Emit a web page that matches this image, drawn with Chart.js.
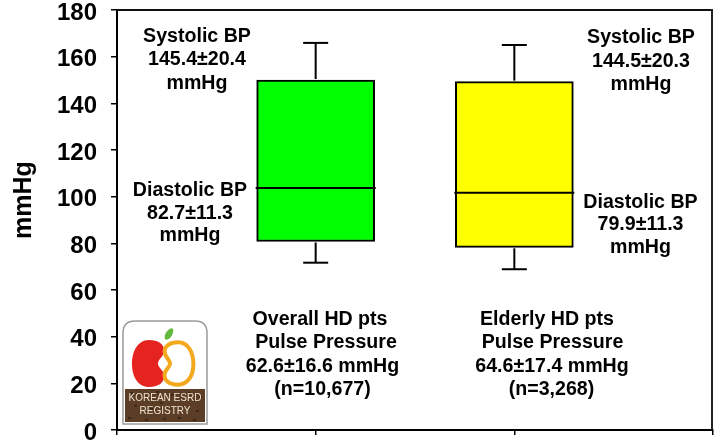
<!DOCTYPE html>
<html>
<head>
<meta charset="utf-8">
<script src="https://cdn.jsdelivr.net/npm/chart.js@4/dist/chart.umd.min.js"></script>
<style>
  html, body { margin: 0; padding: 0; background: #fff; }
  canvas { display: block; }
</style>
</head>
<body>
<canvas id="chart" width="714" height="445"></canvas>
<script>
// Box-plot summary of blood pressure in haemodialysis patients
const groups = ['', 'Overall HD pts', 'Elderly HD pts', ''];
const whiskerLow  = [null, 71.7, 68.9, null];
const boxLow      = [null, 80.8, 78.3, null];
const medians     = [null, 103.7, 101.7, null];
const boxHigh     = [null, 150.0, 149.3, null];
const whiskerHigh = [null, 165.9, 165.0, null];
const boxColors   = [null, '#00ff00', '#ffff00', null];

const yMin = 0, yMax = 180, yStep = 20;
const yTitle = 'mmHg';

// Text blocks printed inside the plot
const overallSystolic  = ['Systolic BP', '145.4\u00b120.4', 'mmHg'];
const overallDiastolic = ['Diastolic BP', '82.7\u00b111.3', 'mmHg'];
const elderlySystolic  = ['Systolic BP', '144.5\u00b120.3', 'mmHg'];
const elderlyDiastolic = ['Diastolic BP', '79.9\u00b111.3', 'mmHg'];
const overallPulse = ['Overall HD pts', 'Pulse Pressure', '62.6\u00b116.6 mmHg', '(n=10,677)'];
const elderlyPulse = ['Elderly HD pts', 'Pulse Pressure', '64.6\u00b117.4 mmHg', '(n=3,268)'];
const logoLines = ['KOREAN ESRD', 'REGISTRY'];

const FONT = "'Liberation Sans', Arial, Helvetica, sans-serif";

function strokeLine(ctx, x1, y1, x2, y2) {
  ctx.beginPath();
  ctx.moveTo(x1, y1);
  ctx.lineTo(x2, y2);
  ctx.stroke();
}

// Medians and whiskers on top of the floating bars
const boxPlot = {
  id: 'boxPlot',
  afterDatasetsDraw(chart) {
    const { ctx, scales: { y } } = chart;
    const meta = chart.getDatasetMeta(0);
    ctx.save();
    ctx.strokeStyle = '#000';
    ctx.lineWidth = 2;
    ctx.lineCap = 'butt';
    meta.data.forEach((bar, i) => {
      if (medians[i] == null) return;
      const x = bar.x, half = bar.width / 2, cap = 12.5;
      const yMed = y.getPixelForValue(medians[i]);
      strokeLine(ctx, x - half - 1, yMed, x + half + 1, yMed);
      const yQ3 = y.getPixelForValue(boxHigh[i]);
      const yHi = y.getPixelForValue(whiskerHigh[i]);
      strokeLine(ctx, x, yQ3 - 1, x, yHi);
      strokeLine(ctx, x - cap, yHi, x + cap, yHi);
      const yQ1 = y.getPixelForValue(boxLow[i]);
      const yLo = y.getPixelForValue(whiskerLow[i]);
      strokeLine(ctx, x, yQ1 + 1, x, yLo);
      strokeLine(ctx, x - cap, yLo, x + cap, yLo);
    });
    ctx.restore();
  }
};

// Top and right edges of the plot frame
const frame = {
  id: 'frame',
  afterDraw(chart) {
    const { ctx, chartArea: a } = chart;
    ctx.save();
    ctx.strokeStyle = '#111';
    ctx.lineWidth = 2;
    strokeLine(ctx, a.left, a.top, a.right, a.top);
    ctx.strokeStyle = '#222';
    strokeLine(ctx, a.right - 1, a.top - 1, a.right - 1, a.bottom);
    ctx.restore();
  }
};

function drawBlock(ctx, lines, cx, baselines) {
  lines.forEach((t, k) => {
    const x = Array.isArray(cx) ? cx[k] : cx;
    ctx.fillText(t, x, baselines[k]);
  });
}

// Annotations and the vertical axis title
const annotations = {
  id: 'annotations',
  afterDraw(chart) {
    const { ctx } = chart;
    ctx.save();
    ctx.fillStyle = '#000';
    ctx.textAlign = 'center';
    ctx.textBaseline = 'alphabetic';
    ctx.font = `bold 19.6px ${FONT}`;
    drawBlock(ctx, overallSystolic, 197, [41.7, 65, 88.5]);
    drawBlock(ctx, overallDiastolic, 190, [196, 218.5, 241]);
    drawBlock(ctx, elderlySystolic, 641, [43.3, 66.7, 90]);
    drawBlock(ctx, elderlyDiastolic, 640.5, [207.5, 230, 252.5]);
    drawBlock(ctx, overallPulse, [320, 326, 322.5, 322.5], [324.5, 348, 371.5, 395]);
    drawBlock(ctx, elderlyPulse, [547, 552.5, 552, 551.5], [324.5, 348, 371.5, 395]);

    ctx.font = `bold 25px ${FONT}`;
    ctx.translate(31, 200);
    ctx.rotate(-Math.PI / 2);
    ctx.textBaseline = 'alphabetic';
    ctx.fillText(yTitle, 0, 0);
    ctx.restore();
    drawLogo(ctx);
  }
};

function beanPath(ctx) {
  ctx.beginPath();
  ctx.moveTo(149, 340);
  ctx.bezierCurveTo(138, 340, 132, 351, 132, 364);
  ctx.bezierCurveTo(132, 378, 139, 387, 149, 387);
  ctx.bezierCurveTo(159, 387, 165, 382, 164, 375);
  ctx.bezierCurveTo(163, 369, 158, 368, 158, 363.5);
  ctx.bezierCurveTo(158, 359, 164, 357, 164, 350);
  ctx.bezierCurveTo(164, 344, 158, 340, 149, 340);
  ctx.closePath();
}

function drawLogo(ctx) {
  ctx.save();
  const x = 123, y = 321, w = 84, h = 103, r = 12;
  ctx.beginPath();
  ctx.moveTo(x + r, y);
  ctx.lineTo(x + w - r, y);
  ctx.quadraticCurveTo(x + w, y, x + w, y + r);
  ctx.lineTo(x + w, y + h);
  ctx.lineTo(x, y + h);
  ctx.lineTo(x, y + r);
  ctx.quadraticCurveTo(x, y, x + r, y);
  ctx.closePath();
  ctx.fillStyle = '#fff';
  ctx.fill();
  ctx.strokeStyle = '#9a9a9a';
  ctx.lineWidth = 1.5;
  ctx.stroke();

  // soil band
  ctx.fillStyle = '#5c3d26';
  ctx.fillRect(125, 389, 80, 33);
  const specks = [[130,392],[141,395],[156,391],[171,394],[188,392],[199,396],[134,405],[150,408],[182,406],[196,410],[128,417],[145,419],[163,418],[178,417],[193,419],[160,402]];
  ctx.fillStyle = '#3e2716';
  specks.forEach(([sx, sy]) => ctx.fillRect(sx, sy, 3, 2));

  ctx.fillStyle = '#efe3d2';
  ctx.textAlign = 'center';
  ctx.font = `10px ${FONT}`;
  ctx.fillText(logoLines[0], 165, 401);
  ctx.fillText(logoLines[1], 165, 413.5);

  // red bean
  beanPath(ctx);
  ctx.fillStyle = '#e5231f';
  ctx.fill();

  // outlined yellow bean, mirrored
  ctx.save();
  ctx.translate(330.5, 0);
  ctx.scale(-1, 1);
  ctx.translate(165, 363.5);
  ctx.scale(0.9, 0.9);
  ctx.translate(-165, -363.5);
  ctx.translate(2, 0);
  beanPath(ctx);
  ctx.restore();
  ctx.strokeStyle = '#f3a81d';
  ctx.lineWidth = 4;
  ctx.stroke();

  // leaf
  ctx.beginPath();
  ctx.ellipse(169, 334, 3.2, 6.5, 0.55, 0, Math.PI * 2);
  ctx.fillStyle = '#63b93b';
  ctx.fill();
  ctx.restore();
}

new Chart(document.getElementById('chart'), {
  type: 'bar',
  data: {
    labels: groups,
    datasets: [{
      data: boxLow.map((lo, i) => (lo == null ? null : [lo, boxHigh[i]])),
      backgroundColor: boxColors,
      borderColor: '#000',
      borderWidth: 2,
      borderSkipped: false,
      barThickness: 118
    }]
  },
  options: {
    responsive: false,
    animation: false,
    devicePixelRatio: 1,
    layout: { padding: { top: 10, right: 1, left: 0, bottom: 0 } },
    plugins: { legend: { display: false }, tooltip: { enabled: false } },
    scales: {
      x: {
        type: 'category',
        offset: false,
        grid: { display: true, drawOnChartArea: false, drawTicks: true, tickLength: 5, color: '#000', lineWidth: 1.5, offset: false },
        border: { display: true, color: '#000', width: 2 },
        ticks: { display: false },
        afterFit(s) { s.height = 15; }
      },
      y: {
        min: yMin,
        max: yMax,
        ticks: {
          stepSize: yStep,
          color: '#000',
          font: { family: FONT, size: 24, weight: 'bold' },
          padding: 14,
          labelOffset: 3
        },
        grid: { display: true, drawOnChartArea: false, drawTicks: true, tickLength: 6, color: '#000', lineWidth: 1.5 },
        border: { display: true, color: '#000', width: 2 },
        afterFit(s) { s.width = 117; s.paddingTop = 0; s.paddingBottom = 0; }
      }
    }
  },
  plugins: [boxPlot, frame, annotations]
});
</script>
</body>
</html>
